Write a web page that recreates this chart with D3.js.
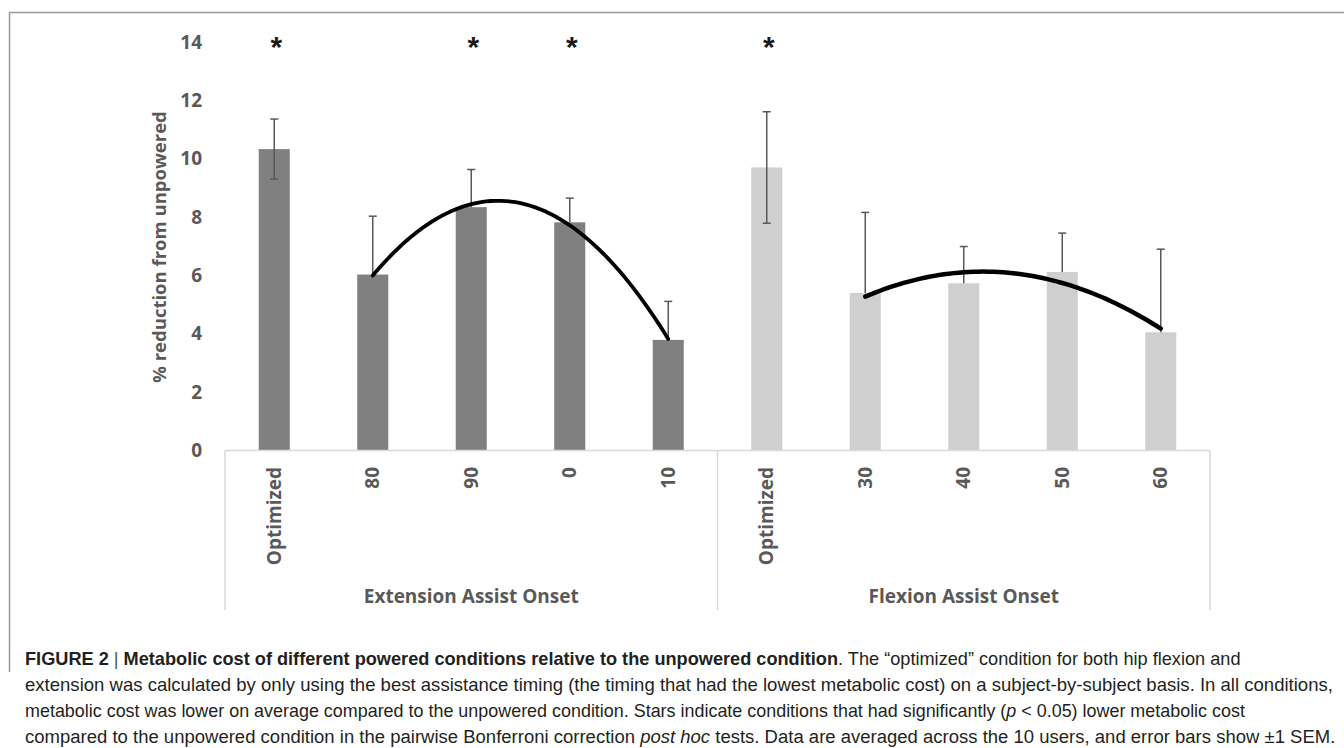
<!DOCTYPE html>
<html>
<head>
<meta charset="utf-8">
<script src="https://cdn.jsdelivr.net/npm/d3@7"></script>
<style>
  html, body { margin: 0; padding: 0; background: #fff; }
  svg { display: block; }
</style>
</head>
<body>
<svg id="chart" width="1344" height="748"></svg>
<script>
// values (% reduction from unpowered, mean and SEM)
var extLabels = ["Optimized", "80", "90", "0", "10"];
var extValues = [10.33, 6.03, 8.34, 7.82, 3.79];
var extErrors = [1.03, 2.0, 1.29, 0.83, 1.32];
var extStars = [true, false, true, true, false];

var flexLabels = ["Optimized", "30", "40", "50", "60"];
var flexValues = [9.70, 5.40, 5.73, 6.12, 4.05];
var flexErrors = [1.91, 2.76, 1.26, 1.33, 2.85];
var flexStars = [true, false, false, false, false];

var groupLabels = ["Extension Assist Onset", "Flexion Assist Onset"];
var groupColors = ["#808080", "#d0cfd0"];
var yTicks = [0, 2, 4, 6, 8, 10, 12, 14];

var captionLines = [
  [["FIGURE 2", "b"], [" | ", "bar"], ["Metabolic cost of different powered conditions relative to the unpowered condition", "b"], [". The \u201coptimized\u201d condition for both hip flexion and", "r"]],
  [["extension was calculated by only using the best assistance timing (the timing that had the lowest metabolic cost) on a subject-by-subject basis. In all conditions,", "r"]],
  [["metabolic cost was lower on average compared to the unpowered condition. Stars indicate conditions that had significantly (", "r"], ["p", "i"], [" < 0.05) lower metabolic cost", "r"]],
  [["compared to the unpowered condition in the pairwise Bonferroni correction ", "r"], ["post hoc", "i"], [" tests. Data are averaged across the 10 users, and error bars show \u00b11 SEM.", "r"]]
];
var captionWidths = [1216, 1309, 1221, 1311];

var groups = [
  { labels: extLabels, values: extValues, errors: extErrors, stars: extStars },
  { labels: flexLabels, values: flexValues, errors: flexErrors, stars: flexStars }
];

// flatten into one row per bar
var rows = [];
groups.forEach(function (g, gi) {
  g.labels.forEach(function (lab, i) {
    rows.push({
      key: gi + "-" + i, group: gi, index: i, label: lab,
      value: g.values[i], err: g.errors[i], star: g.stars[i],
      both: i === 0   // the optimized bars carry +/- error, the others only +
    });
  });
});

var svg = d3.select("#chart");
var font = "'Open Sans', sans-serif";
var axisGray = "#595959";

var x = d3.scaleBand()
  .domain(rows.map(function (d) { return d.key; }))
  .range([225, 1210])
  .padding(0);

var y = d3.scaleLinear().domain([0, 14]).range([450.5, 42]);

var barW = x.bandwidth() * 0.315;
function cx(d) { return x(d.key) + x.bandwidth() / 2; }

// outer frame (top and left rule of the figure panel)
svg.append("line")
  .attr("x1", 9).attr("x2", 1344).attr("y1", 12.5).attr("y2", 12.5)
  .attr("stroke", "#9a9a9a").attr("stroke-width", 1.5);
svg.append("line")
  .attr("x1", 9.5).attr("x2", 9.5).attr("y1", 12).attr("y2", 672)
  .attr("stroke", "#9a9a9a").attr("stroke-width", 1.5);

// y tick labels (no axis line, no gridlines)
var yAxis = d3.axisLeft(y).tickValues(yTicks).tickSize(0).tickPadding(0);
var yg = svg.append("g").attr("transform", "translate(202,0)").call(yAxis);
yg.select(".domain").remove();
yg.selectAll("text")
  .attr("font-family", font).attr("font-weight", 700)
  .attr("font-size", 19).attr("fill", axisGray);

svg.append("text")
  .attr("transform", "translate(160,247) rotate(-90)")
  .attr("text-anchor", "middle").attr("dy", "0.35em")
  .attr("font-family", font).attr("font-weight", 700)
  .attr("font-size", 18.5).attr("fill", axisGray)
  .text("% reduction from unpowered");

// bars
svg.append("g").selectAll("rect").data(rows).join("rect")
  .attr("x", function (d) { return cx(d) - barW / 2; })
  .attr("y", function (d) { return y(d.value); })
  .attr("width", barW)
  .attr("height", function (d) { return y(0) - y(d.value); })
  .attr("fill", function (d) { return groupColors[d.group]; });

// error bars
var eb = svg.append("g").attr("stroke", axisGray).attr("stroke-width", 1.5)
  .selectAll("g").data(rows).join("g");
eb.append("line")
  .attr("x1", cx).attr("x2", cx)
  .attr("y1", function (d) { return y(d.value + d.err); })
  .attr("y2", function (d) { return y(d.both ? d.value - d.err : d.value); });
eb.append("line")
  .attr("x1", function (d) { return cx(d) - 4; })
  .attr("x2", function (d) { return cx(d) + 4; })
  .attr("y1", function (d) { return y(d.value + d.err); })
  .attr("y2", function (d) { return y(d.value + d.err); });
eb.filter(function (d) { return d.both; }).append("line")
  .attr("x1", function (d) { return cx(d) - 4; })
  .attr("x2", function (d) { return cx(d) + 4; })
  .attr("y1", function (d) { return y(d.value - d.err); })
  .attr("y2", function (d) { return y(d.value - d.err); });

// polynomial (order 2) trendlines over the timing conditions of each group
function quadFit(xs, ys) {
  var n = xs.length, s = [0, 0, 0, 0, 0], t = [0, 0, 0];
  for (var i = 0; i < n; i++) {
    for (var p = 0; p < 5; p++) s[p] += Math.pow(xs[i], p);
    for (var q = 0; q < 3; q++) t[q] += ys[i] * Math.pow(xs[i], q);
  }
  var A = [[s[0], s[1], s[2], t[0]], [s[1], s[2], s[3], t[1]], [s[2], s[3], s[4], t[2]]];
  for (var c = 0; c < 3; c++) {
    for (var r = c + 1; r < 3; r++) {
      var f = A[r][c] / A[c][c];
      for (var k = c; k < 4; k++) A[r][k] -= f * A[c][k];
    }
  }
  var b = [0, 0, 0];
  for (var r2 = 2; r2 >= 0; r2--) {
    var sum = A[r2][3];
    for (var k2 = r2 + 1; k2 < 3; k2++) sum -= A[r2][k2] * b[k2];
    b[r2] = sum / A[r2][r2];
  }
  return function (v) { return b[0] + b[1] * v + b[2] * v * v; };
}

var line = d3.line().x(function (d) { return d[0]; }).y(function (d) { return d[1]; });
groups.forEach(function (g, gi) {
  var pts = rows.filter(function (d) { return d.group === gi && d.index > 0; });
  var fit = quadFit(pts.map(function (d) { return d.index; }), pts.map(function (d) { return d.value; }));
  var first = cx(pts[0]), step = x.bandwidth();
  var path = d3.range(1, 4.001, 0.05).map(function (v) {
    return [first + (v - 1) * step, y(fit(v))];
  });
  svg.append("path").datum(path)
    .attr("d", line).attr("fill", "none")
    .attr("stroke", "#000").attr("stroke-width", gi === 0 ? 3.8 : 4.5)
    .attr("stroke-linecap", "round");
});

// significance stars
svg.append("g").selectAll("text").data(rows.filter(function (d) { return d.star; })).join("text")
  .attr("x", function (d) { return cx(d) + 2; })
  .attr("y", 57)
  .attr("text-anchor", "middle")
  .attr("font-family", "'Liberation Sans', Arial, sans-serif").attr("font-weight", 700)
  .attr("font-size", 30).attr("fill", "#1a1a1a")
  .text("*");

// category axis: baseline, group separators, rotated tick labels, group labels
var xg = svg.append("g").attr("stroke", "#d9d9d9").attr("stroke-width", 1.5);
xg.append("line").attr("x1", 225).attr("x2", 1210).attr("y1", 450.5).attr("y2", 450.5);
var bounds = [225, (225 + 1210) / 2, 1210];
xg.selectAll(".sep").data(bounds).join("line")
  .attr("class", "sep")
  .attr("x1", function (d) { return d; }).attr("x2", function (d) { return d; })
  .attr("y1", 450.5).attr("y2", 610);

svg.append("g").selectAll("text").data(rows).join("text")
  .attr("transform", function (d) { return "translate(" + cx(d) + ",467) rotate(-90)"; })
  .attr("text-anchor", "end").attr("dy", "0.35em")
  .attr("font-family", font).attr("font-weight", 700)
  .attr("font-size", 19).attr("fill", axisGray)
  .text(function (d) { return d.label; });

svg.append("g").selectAll("text").data(groupLabels).join("text")
  .attr("x", function (d, i) { return (bounds[i] + bounds[i + 1]) / 2; })
  .attr("y", 603)
  .attr("text-anchor", "middle")
  .attr("font-family", font).attr("font-weight", 700)
  .attr("font-size", 19).attr("fill", axisGray)
  .text(function (d) { return d; });

// caption: each line squeezed horizontally to the width it has in the figure
var cap = svg.append("g")
  .attr("font-family", "'Liberation Sans', Arial, sans-serif")
  .attr("font-size", 18).attr("fill", "#231f20");
captionLines.forEach(function (parts, li) {
  var t = cap.append("text").attr("x", 0).attr("y", 0);
  parts.forEach(function (p) {
    var ts = t.append("tspan").text(p[0]);
    if (p[1] === "b") ts.attr("font-weight", 700);
    if (p[1] === "i") ts.attr("font-style", "italic");
    if (p[1] === "bar") ts.attr("font-weight", 300).attr("fill", "#555");
  });
  var k = captionWidths[li] / t.node().getComputedTextLength();
  t.attr("transform", "translate(25," + (665 + li * 26) + ") scale(" + k + ",1)");
});
</script>
</body>
</html>
